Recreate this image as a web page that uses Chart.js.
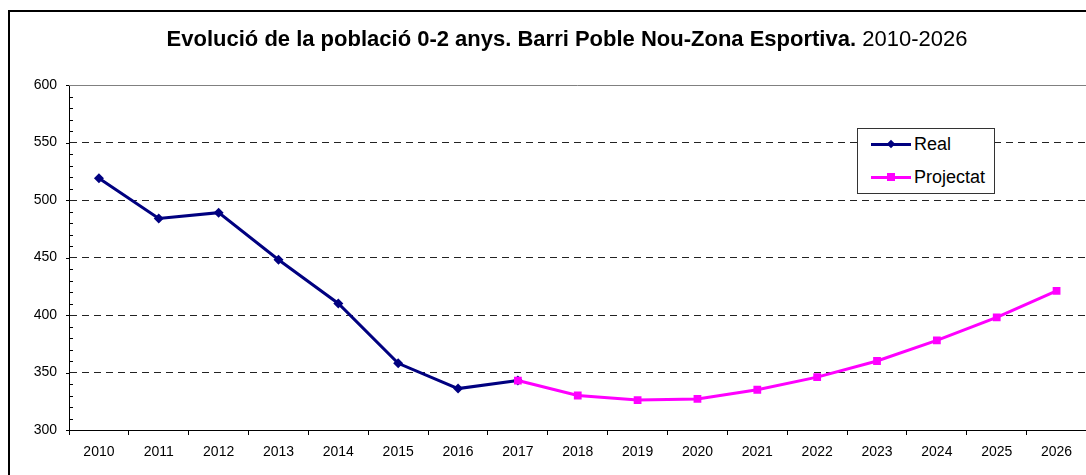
<!DOCTYPE html>
<html lang="ca">
<head>
    <meta charset="UTF-8">
    <title>Evolució de la població 0-2 anys</title>
    <script src="https://cdn.jsdelivr.net/npm/chart.js"></script>
    <style>
        html, body {
            margin: 0;
            padding: 0;
            background: #fff;
            overflow: hidden;
            width: 1086px;
            height: 475px;
            font-family: "Liberation Sans", Arial, sans-serif;
        }
        .frame {
            position: absolute;
            left: 8px;
            top: 10px;
            width: 1200px;
            height: 600px;
            border: 2px solid #000;
            box-sizing: border-box;
        }
        .chart-container {
            position: absolute;
            left: 0;
            top: 0;
            width: 1092px;
            height: 475px;
        }
        .title {
            position: absolute;
            left: 0;
            width: 1134px;
            top: 26px;
            text-align: center;
            font-size: 22px;
            color: #000;
            white-space: nowrap;
        }
        .legend {
            position: absolute;
            left: 857px;
            top: 128px;
            width: 138px;
            height: 66px;
            border: 1px solid #333;
            box-sizing: border-box;
            background: #fff;
            font-size: 18px;
        }
        .legend .item {
            position: absolute;
            left: 13px;
            height: 20px;
            line-height: 20px;
        }
        .legend .line {
            position: absolute;
            left: 0;
            top: 9px;
            width: 40px;
            height: 3px;
        }
        .legend .mark {
            position: absolute;
            left: 16px;
            top: 6px;
            width: 8px;
            height: 8px;
        }
        .legend .label {
            position: absolute;
            left: 43px;
            top: 0;
        }
    </style>
</head>
<body>
    <div class="frame"></div>
    <div class="chart-container">
        <canvas id="poblacioChart" width="1092" height="475"></canvas>
    </div>
    <div class="title"><b>Evolució de la població 0-2 anys. Barri Poble Nou-Zona Esportiva.</b> 2010-2026</div>
    <div class="legend">
        <div class="item" style="top: 5px;">
            <div class="line" style="background:#000080"></div>
            <div class="mark" style="background:#000080; transform: rotate(45deg) scale(0.75);"></div>
            <span class="label">Real</span>
        </div>
        <div class="item" style="top: 38px;">
            <div class="line" style="background:#ff00ff"></div>
            <div class="mark" style="background:#ff00ff"></div>
            <span class="label">Projectat</span>
        </div>
    </div>

    <script>
        // Dades
        const anys = ['2010', '2011', '2012', '2013', '2014', '2015', '2016', '2017', '2018',
                      '2019', '2020', '2021', '2022', '2023', '2024', '2025', '2026'];
        const real = [519, 484, 489, 448, 410, 358, 336, 343,
                      null, null, null, null, null, null, null, null, null];
        const projectat = [null, null, null, null, null, null, null, 343,
                           330, 326, 327, 335, 346, 360, 378, 398, 421];
        const yMin = 300;
        const yMax = 600;

        // Marques menors de l'eix Y i línia superior sòlida
        const extres = {
            id: 'extres',
            afterDraw(chart) {
                const ctx = chart.ctx;
                const y = chart.scales.y;
                const area = chart.chartArea;
                ctx.save();
                ctx.strokeStyle = '#808080';
                ctx.lineWidth = 1;
                ctx.beginPath();
                ctx.moveTo(area.left, Math.round(area.top) + 0.5);
                ctx.lineTo(area.right, Math.round(area.top) + 0.5);
                ctx.stroke();
                ctx.strokeStyle = '#000';
                y.ticks.forEach(t => {
                    const py = Math.round(y.getPixelForValue(t.value)) + 0.5;
                    ctx.beginPath();
                    if (t.value % 50 === 0) {
                        ctx.moveTo(area.left - 3, py);
                        ctx.lineTo(area.left, py);
                    } else {
                        ctx.moveTo(area.left, py);
                        ctx.lineTo(area.left + 4, py);
                    }
                    ctx.stroke();
                });
                ctx.restore();
            }
        };

        const ctx = document.getElementById('poblacioChart').getContext('2d');
        new Chart(ctx, {
            type: 'line',
            data: {
                labels: anys,
                datasets: [{
                    label: 'Real',
                    data: real,
                    borderColor: '#000080',
                    backgroundColor: '#000080',
                    borderWidth: 3,
                    pointStyle: 'rectRot',
                    pointRadius: 5,
                    pointBorderWidth: 0,
                    tension: 0,
                    order: 1
                }, {
                    label: 'Projectat',
                    data: projectat,
                    borderColor: '#ff00ff',
                    backgroundColor: '#ff00ff',
                    borderWidth: 3,
                    pointStyle: 'rect',
                    pointRadius: 5.5,
                    pointBorderWidth: 0,
                    tension: 0,
                    order: 0
                }]
            },
            options: {
                responsive: false,
                animation: false,
                layout: {
                    padding: { left: 0, right: 0, top: 85, bottom: 0 }
                },
                scales: {
                    x: {
                        offset: true,
                        grid: {
                            offset: true,
                            drawOnChartArea: false,
                            tickLength: 5,
                            tickColor: '#000'
                        },
                        border: { color: '#000', width: 1 },
                        ticks: {
                            color: '#000',
                            padding: 9,
                            maxRotation: 0,
                            font: { family: 'Liberation Sans', size: 14 }
                        },
                        afterFit(scale) { scale.height = 45; }
                    },
                    y: {
                        min: yMin,
                        max: yMax,
                        grid: {
                            drawTicks: false,
                            color: c => (c.tick && c.tick.value % 50 === 0 && c.tick.value !== yMin && c.tick.value !== yMax) ? '#222' : 'transparent',
                            lineWidth: 1
                        },
                        border: { color: '#000', width: 1, dash: [7, 5] },
                        ticks: {
                            stepSize: 10,
                            autoSkip: false,
                            color: '#000',
                            padding: 12,
                            font: { family: 'Liberation Sans', size: 14 },
                            callback: v => (v % 50 === 0 ? v : '')
                        },
                        afterFit(scale) { scale.width = 69; }
                    }
                },
                plugins: {
                    legend: { display: false },
                    title: { display: false },
                    tooltip: { enabled: false }
                }
            },
            plugins: [extres]
        });
    </script>
</body>
</html>
